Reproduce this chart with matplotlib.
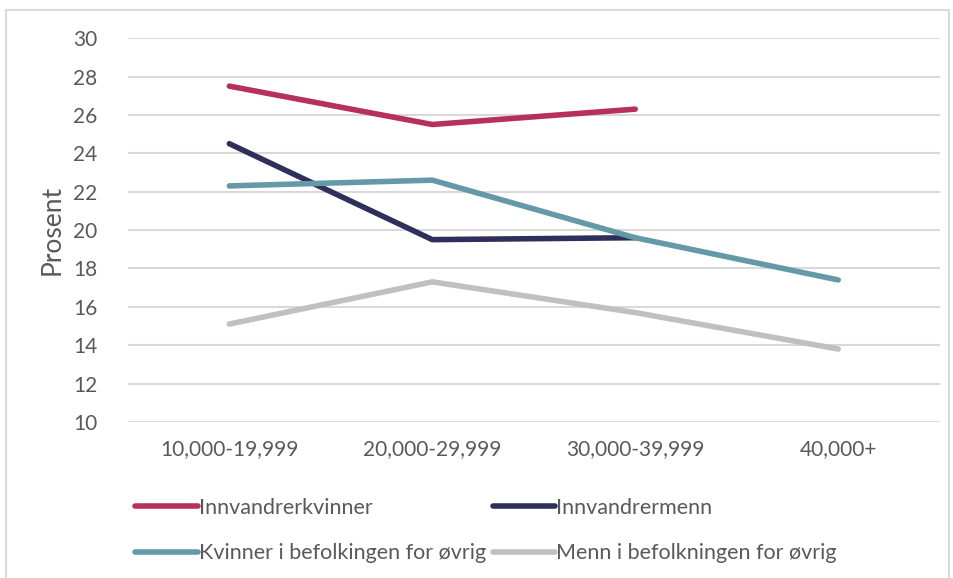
import matplotlib.pyplot as plt
import matplotlib as mpl
from matplotlib.patches import Rectangle

mpl.rcParams['font.family'] = ['Lato', 'DejaVu Sans']
mpl.rcParams['font.size'] = 15

categories = ['10,000-19,999', '20,000-29,999', '30,000-39,999', '40,000+']
innv_kvinner = [27.5, 25.5, 26.3]
innv_menn = [24.5, 19.5, 19.6]
kvinner_ovrig = [22.3, 22.6, 19.6, 17.4]
menn_ovrig = [15.1, 17.3, 15.7, 13.8]

series = [
    ('Innvandrerkvinner', innv_kvinner, '#B5305A'),
    ('Innvandrermenn', innv_menn, '#2E2F5B'),
    ('Kvinner i befolkingen for øvrig', kvinner_ovrig, '#6499A8'),
    ('Menn i befolkningen for øvrig', menn_ovrig, '#C0C0C0'),
]

fig = plt.figure(figsize=(9.54, 5.78), dpi=100)
ax = fig.add_axes([0.134, 0.270, 0.851, 0.664])

x = list(range(len(categories)))
lines = []
for label, vals, color in series:
    ln, = ax.plot(x[:len(vals)], vals, color=color, linewidth=4, label=label,
                  solid_capstyle='round')
    lines.append(ln)

ax.set_xlim(-0.5, len(categories) - 0.5)
ax.set_ylim(10, 30)
ax.set_yticks(range(10, 31, 2))
ax.set_xticks(x)
ax.set_xticklabels(categories)
ax.yaxis.grid(True, color='#D9D9D9', linewidth=1.5)
ax.set_axisbelow(True)
for s in ax.spines.values():
    s.set_visible(False)
ax.tick_params(length=0, colors='#595959', labelsize=15)
ax.tick_params(axis='x', pad=12)
ax.tick_params(axis='y', pad=22)
ax.set_ylabel('Prosent', color='#595959', fontsize=19, labelpad=6)

# legend is filled column-wise, so reorder to read row by row
order = [0, 2, 1, 3]
fig.legend([lines[i] for i in order], [series[i][0] for i in order],
           loc='upper left', bbox_to_anchor=(0.142, 0.139), ncol=2,
           frameon=False, handlelength=2.9, handletextpad=0.05,
           columnspacing=0.3, labelspacing=1.2, fontsize=15.5,
           labelcolor='#595959', borderaxespad=0, borderpad=0)

fig.patches.append(Rectangle((0.006, -0.01), 0.989, 0.993, transform=fig.transFigure,
                             fill=False, edgecolor='#D9D9D9', linewidth=1.5))

fig.savefig('out.png', dpi=100)
